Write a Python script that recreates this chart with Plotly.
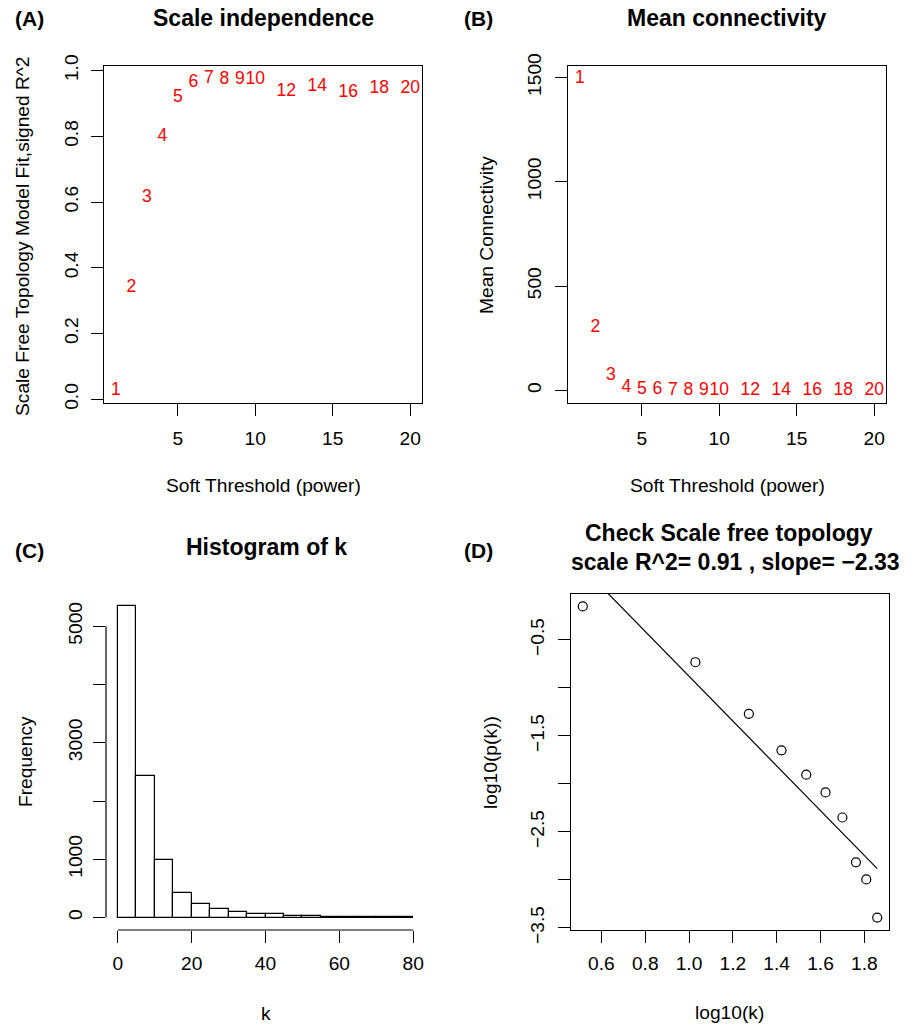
import numpy as np
import plotly.graph_objects as go

# ---------------- data ----------------
powers = [1, 2, 3, 4, 5, 6, 7, 8, 9, 10, 12, 14, 16, 18, 20]
sft_r2 = [0.027, 0.34, 0.614, 0.80, 0.918, 0.963, 0.976, 0.973, 0.973, 0.973,
          0.936, 0.951, 0.933, 0.945, 0.945]
mean_k = [1495, 303, 72, 15, 5, 3, 1.5, 0.8, 0.5, 0.3, 0.15, 0.08, 0.05, 0.03, 0.02]

hist_edges = [0, 5, 10, 15, 20, 25, 30, 35, 40, 45, 50, 55, 60, 65, 70, 75, 80]
hist_counts = [5340, 2430, 980, 420, 235, 145, 95, 55, 60, 28, 25, 10, 6, 4, 3, 2]

log_k = [0.515, 1.029, 1.273, 1.422, 1.535, 1.623, 1.700, 1.762, 1.809, 1.859]
log_pk = [-0.152, -0.733, -1.270, -1.650, -1.904, -2.089, -2.350, -2.817, -2.995, -3.392]

a_xticks = [5, 10, 15, 20]
a_yticks = [0.0, 0.2, 0.4, 0.6, 0.8, 1.0]
a_ylabels = ["0.0", "0.2", "0.4", "0.6", "0.8", "1.0"]
b_yticks = [0, 500, 1000, 1500]
b_ylabels = ["0", "500", "1000", "1500"]
c_xticks = [0, 20, 40, 60, 80]
c_yticks = [0, 1000, 2000, 3000, 4000, 5000]
c_ylabels = ["0", "1000", "", "3000", "", "5000"]
d_xticks = [0.6, 0.8, 1.0, 1.2, 1.4, 1.6, 1.8]
d_xlabels = ["0.6", "0.8", "1.0", "1.2", "1.4", "1.6", "1.8"]
d_yticks = [-0.5, -1.0, -1.5, -2.0, -2.5, -3.0, -3.5]
d_ylabels = ["\u22120.5", "", "\u22121.5", "", "\u22122.5", "", "\u22123.5"]

r2_text = "0.91"
slope_text = "\u22122.33"

# ---------------- helpers ----------------
W, H = 915, 1025
FONT = "Liberation Sans, Arial, Helvetica, sans-serif"
BASE = 19.2


def px_x(p):
    return p / W


def px_y(p):
    return 1 - p / H


def rrange(vals):
    lo, hi = min(vals), max(vals)
    r = hi - lo
    return [lo - 0.04 * r, hi + 0.04 * r]


fig = go.Figure()

# A
fig.add_trace(go.Scatter(x=powers, y=sft_r2, mode="text", text=[str(p) for p in powers],
                         textfont=dict(color="red", size=17.5, family=FONT),
                         xaxis="x", yaxis="y", showlegend=False, hoverinfo="skip"))
# B
fig.add_trace(go.Scatter(x=powers, y=mean_k, mode="text", text=[str(p) for p in powers],
                         textfont=dict(color="red", size=17.5, family=FONT),
                         xaxis="x2", yaxis="y2", showlegend=False, hoverinfo="skip"))
# C
mids = [(hist_edges[i] + hist_edges[i + 1]) / 2 for i in range(len(hist_counts))]
widths = [hist_edges[i + 1] - hist_edges[i] for i in range(len(hist_counts))]
fig.add_trace(go.Bar(x=mids, y=hist_counts, width=widths,
                     marker=dict(color="white", line=dict(color="black", width=1.2)),
                     xaxis="x3", yaxis="y3", showlegend=False, hoverinfo="skip"))
# D
fit = np.polyfit(log_k, log_pk, 1)
fx = [min(log_k), max(log_k)]
fy = [fit[0] * v + fit[1] for v in fx]
fig.add_trace(go.Scatter(x=fx, y=fy, mode="lines", line=dict(color="black", width=1.2),
                         xaxis="x4", yaxis="y4", showlegend=False, hoverinfo="skip"))
fig.add_trace(go.Scatter(x=log_k, y=log_pk, mode="markers",
                         marker=dict(symbol="circle-open", size=9, color="black", line=dict(width=1.2)),
                         xaxis="x4", yaxis="y4", showlegend=False, hoverinfo="skip"))

tickfont = dict(family=FONT, size=BASE, color="black")
common = dict(showgrid=False, zeroline=False, ticks="outside", ticklen=12, tickwidth=1.2,
              tickcolor="black", tickfont=tickfont, linecolor="black", linewidth=1.2,
              automargin=False)

top_dom = [px_y(403), px_y(66)]
bot_dom = [px_y(930), px_y(594)]

edges_rng = rrange(hist_edges)
fig.update_layout(
    template="none",
    width=W, height=H, margin=dict(l=0, r=0, t=0, b=0, pad=0), autosize=False,
    paper_bgcolor="white", plot_bgcolor="white", bargap=0,
    xaxis=dict(domain=[px_x(104), px_x(422)], range=rrange(powers), tickvals=a_xticks,
               showline=True, mirror=True, anchor="y", ticklabelstandoff=6, **common),
    yaxis=dict(domain=top_dom, range=rrange(sft_r2), tickvals=a_yticks, ticktext=a_ylabels,
               tickangle=-90, showline=True, mirror=True, anchor="x", ticklabelstandoff=5, **common),
    xaxis2=dict(domain=[px_x(568), px_x(886)], range=rrange(powers), tickvals=a_xticks,
                showline=True, mirror=True, anchor="y2", ticklabelstandoff=6, **common),
    yaxis2=dict(domain=top_dom, range=rrange(mean_k), tickvals=b_yticks, ticktext=b_ylabels,
                tickangle=-90, showline=True, mirror=True, anchor="x2", ticklabelstandoff=6, **common),
    xaxis3=dict(domain=[px_x(106), px_x(425)], range=edges_rng, tickvals=c_xticks,
                showline=False, anchor="y3", ticklabelstandoff=4, **common),
    yaxis3=dict(domain=bot_dom, range=[-0.04 * max(hist_counts), 1.04 * max(hist_counts)],
                tickvals=c_yticks, ticktext=c_ylabels, tickangle=-90, showline=False,
                anchor="x3", ticklabelstandoff=3, **common),
    xaxis4=dict(domain=[px_x(571), px_x(889)], range=rrange(log_k), tickvals=d_xticks,
                ticktext=d_xlabels, showline=True, mirror=True, anchor="y4", ticklabelstandoff=4,
                **common),
    yaxis4=dict(domain=bot_dom, range=rrange(log_pk), tickvals=d_yticks, ticktext=d_ylabels,
                tickangle=-90, showline=True, mirror=True, anchor="x4", ticklabelstandoff=6, **common),
)

# axis lines for histogram (R-style: span first to last tick)
fig.add_shape(type="line", xref="x3 domain", yref="y3", x0=0, x1=0,
              y0=c_yticks[0], y1=c_yticks[-1], line=dict(color="black", width=1.2))
fig.add_shape(type="line", xref="x3", yref="y3 domain", x0=c_xticks[0], x1=c_xticks[-1],
              y0=0, y1=0, line=dict(color="black", width=1.2))


def ann(text, x, y, size=BASE, bold=False, angle=0, xanchor="center"):
    t = f"<b>{text}</b>" if bold else text
    fig.add_annotation(text=t, x=px_x(x), y=px_y(y), xref="paper", yref="paper",
                       xanchor=xanchor, yanchor="middle", showarrow=False, textangle=angle,
                       font=dict(family=FONT, size=size, color="black"))


# panel labels
ann("(A)", 13, 18, size=21, bold=True, xanchor="left")
ann("(B)", 462, 18, size=21, bold=True, xanchor="left")
ann("(C)", 13, 550, size=21, bold=True, xanchor="left")
ann("(D)", 462, 550, size=21, bold=True, xanchor="left")

# titles
ann("Scale independence", 263, 18, size=23, bold=True)
ann("Mean connectivity", 727, 18, size=23, bold=True)
ann("Histogram of k", 266, 547, size=23, bold=True)
ann("Check Scale free topology", 729, 533, size=23, bold=True)
ann(f"scale R^2= {r2_text} , slope= {slope_text}", 735, 562, size=23, bold=True)

# axis titles
ann("Scale Free Topology Model Fit,signed R^2", 23, 236, angle=-90)
ann("Soft Threshold (power)", 263, 485)
ann("Mean Connectivity", 487, 235, angle=-90)
ann("Soft Threshold (power)", 727, 485)
ann("Frequency", 25, 762, angle=-90)
ann("k", 266, 1013)
ann("log10(p(k))", 490, 763, angle=-90)
ann("log10(k)", 729, 1012)

fig.write_html("out.html", config={"displayModeBar": False},
               post_script="document.body.style.margin='0';document.body.style.overflow='hidden';")
